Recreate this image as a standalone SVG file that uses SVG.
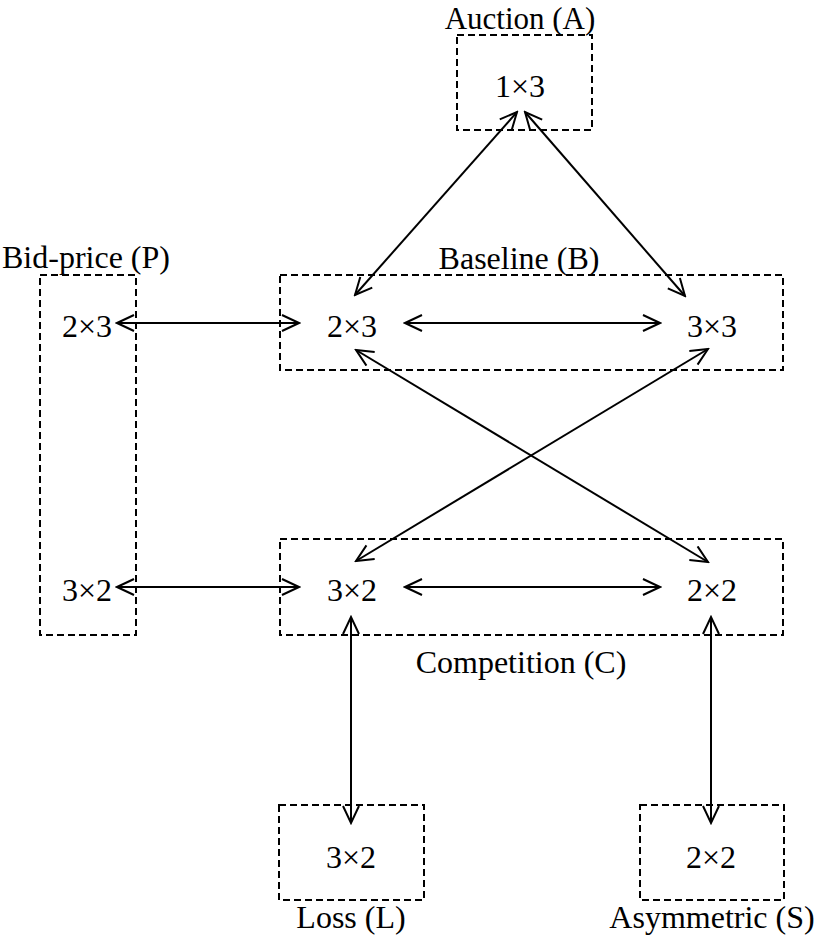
<svg xmlns="http://www.w3.org/2000/svg" width="814" height="946" viewBox="0 0 814 946">
<defs>
<style>
text{font-family:"Liberation Serif","Times New Roman",serif;font-size:32px;fill:#000;text-anchor:middle}
.box{fill:none;stroke:#000;stroke-width:2;stroke-dasharray:7 4}
.c{stroke:#000;stroke-width:2;fill:none;marker-start:url(#ah);marker-end:url(#ah)}
</style>
<marker id="ah" viewBox="0 0 20 20" refX="18" refY="9" markerWidth="20" markerHeight="20" markerUnits="userSpaceOnUse" orient="auto-start-reverse">
<path d="M1,1 L18,9 L1,17" fill="none" stroke="#000" stroke-width="2"/>
</marker>
</defs>
<rect width="814" height="946" fill="#fff"/>
<g id="auction">
<rect class="box" x="457" y="35" width="135" height="95"/>
<text x="520" y="29" style="font-size:31px">Auction (A)</text>
<text x="520" y="97">1×3</text>
</g>
<g id="bidprice">
<rect class="box" x="40" y="275" width="96" height="360"/>
<text x="86" y="268">Bid-price (P)</text>
<text x="87" y="337">2×3</text>
<text x="87" y="601">3×2</text>
</g>
<g id="baseline">
<rect class="box" x="280" y="275" width="503" height="95"/>
<text x="519" y="269">Baseline (B)</text>
<text x="352" y="337">2×3</text>
<text x="712" y="337">3×3</text>
</g>
<g id="competition">
<rect class="box" x="280" y="539" width="503" height="96"/>
<text x="352" y="601">3×2</text>
<text x="712" y="601">2×2</text>
<text x="521" y="673">Competition (C)</text>
</g>
<g id="loss">
<rect class="box" x="279" y="805" width="145" height="95"/>
<text x="351" y="868">3×2</text>
<text x="351" y="928">Loss (L)</text>
</g>
<g id="asymmetric">
<rect class="box" x="640" y="805" width="144" height="95"/>
<text x="711" y="868">2×2</text>
<text x="712" y="928">Asymmetric (S)</text>
</g>
<g id="connectors">
<line class="c" x1="517" y1="112" x2="355" y2="295"/>
<line class="c" x1="525" y1="112" x2="685" y2="296"/>
<line class="c" x1="117" y1="323" x2="299" y2="323"/>
<line class="c" x1="405" y1="323" x2="660" y2="323"/>
<line class="c" x1="356" y1="350" x2="708" y2="562"/>
<line class="c" x1="708" y1="349" x2="356" y2="561"/>
<line class="c" x1="117" y1="587" x2="299" y2="587"/>
<line class="c" x1="405" y1="587" x2="660" y2="587"/>
<line class="c" x1="351" y1="617" x2="351" y2="823"/>
<line class="c" x1="711" y1="617" x2="711" y2="823"/>
</g>
</svg>
